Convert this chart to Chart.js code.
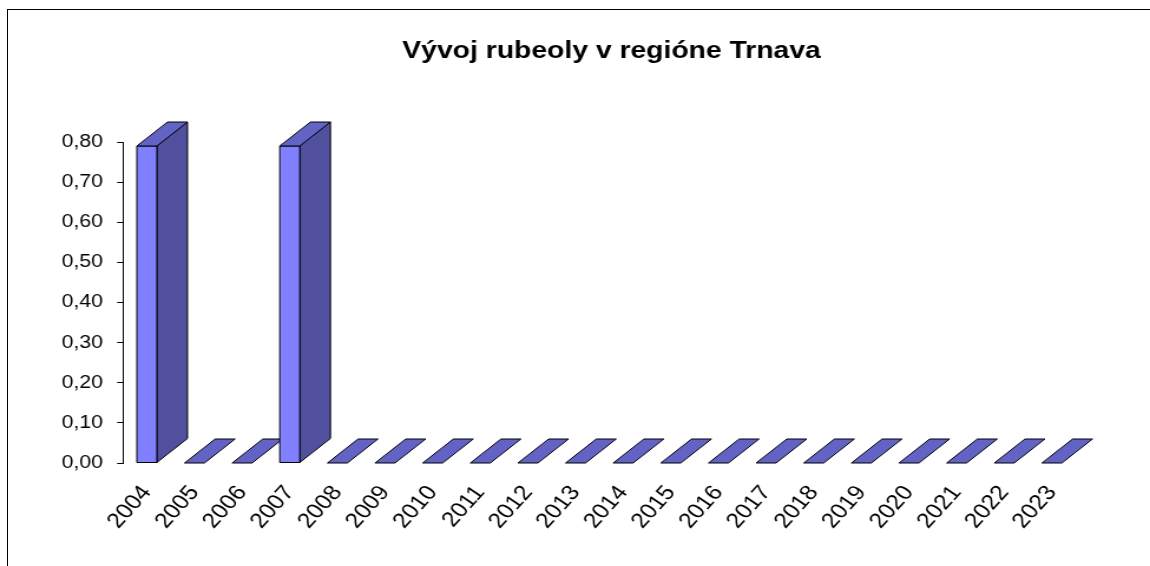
<!DOCTYPE html>
<html>
<head>
<meta charset="utf-8">
<title>Vývoj rubeoly v regióne Trnava</title>
<script src="https://cdn.jsdelivr.net/npm/chart.js@4"></script>
<style>
  html, body { margin: 0; padding: 0; background: #fff; overflow: hidden; }
  body { width: 1150px; height: 566px; position: relative; }
  #frame {
    position: absolute; left: 7px; top: 9px; width: 1200px; height: 600px;
    border-top: 1px solid #000; border-left: 1px solid #000;
  }
  /* the source picture is stretched sideways, so the canvas is too */
  #wrap {
    position: absolute; left: 0; top: 0; width: 975px; height: 566px;
    transform: scaleX(1.1795); transform-origin: 0 0;
  }
</style>
</head>
<body>
<div id="frame"></div>
<div id="wrap"><canvas id="chart" width="975" height="566"></canvas></div>
<script>
  const TITLE = 'Vývoj rubeoly v regióne Trnava';
  const years = ['2004', '2005', '2006', '2007', '2008', '2009', '2010', '2011', '2012', '2013',
    '2014', '2015', '2016', '2017', '2018', '2019', '2020', '2021', '2022', '2023'];
  const values = [0.79, 0, 0, 0.79, 0, 0, 0, 0, 0, 0, 0, 0, 0, 0, 0, 0, 0, 0, 0, 0];
  const yMin = 0;
  const yMax = 0.8;
  const yStep = 0.1;

  const FONT = "'Liberation Sans', Arial, sans-serif";
  const FRONT = '#8080FF';
  const SIDE = '#50509F';
  const TOP = '#6363C6';
  const DEPTH_X = 26;
  const DEPTH_Y = 24;

  // title sits off-centre in the source (centred on plot + depth), so draw it here
  const titleText = {
    id: 'titleText',
    afterDraw(chart) {
      const ctx = chart.ctx;
      ctx.save();
      ctx.font = `bold 24px ${FONT}`;
      ctx.fillStyle = '#000';
      ctx.textAlign = 'center';
      ctx.textBaseline = 'alphabetic';
      ctx.fillText(TITLE, 518.5, 58);
      ctx.restore();
    }
  };

  // draws each bar as a box, using the positions the bar elements got from the scales
  const bars3d = {
    id: 'bars3d',
    afterDatasetsDraw(chart) {
      const ctx = chart.ctx;
      const meta = chart.getDatasetMeta(0);
      ctx.save();
      ctx.lineWidth = 1;
      ctx.strokeStyle = '#000';
      ctx.lineJoin = 'round';
      meta.data.forEach(bar => {
        const { x, y, base, width } = bar.getProps(['x', 'y', 'base', 'width'], true);
        const l = x - width / 2;
        const r = x + width / 2;

        if (base - y > 0.5) {
          // side
          ctx.beginPath();
          ctx.moveTo(r, y);
          ctx.lineTo(r + DEPTH_X, y - DEPTH_Y);
          ctx.lineTo(r + DEPTH_X, base - DEPTH_Y);
          ctx.lineTo(r, base);
          ctx.closePath();
          ctx.fillStyle = SIDE;
          ctx.fill();
          ctx.stroke();
          // front
          ctx.beginPath();
          ctx.rect(l, y, width, base - y);
          ctx.fillStyle = FRONT;
          ctx.fill();
          ctx.stroke();
        }
        // top
        ctx.beginPath();
        ctx.moveTo(l, y);
        ctx.lineTo(l + DEPTH_X, y - DEPTH_Y);
        ctx.lineTo(r + DEPTH_X, y - DEPTH_Y);
        ctx.lineTo(r, y);
        ctx.closePath();
        ctx.fillStyle = TOP;
        ctx.fill();
        ctx.stroke();
      });
      ctx.restore();
    }
  };

  new Chart(document.getElementById('chart'), {
    type: 'bar',
    data: {
      labels: years,
      datasets: [{
        label: 'rubeola',
        data: values,
        backgroundColor: 'rgba(0,0,0,0)',
        borderWidth: 0,
        categoryPercentage: 1,
        barPercentage: 0.42,
      }],
    },
    plugins: [bars3d, titleText],
    options: {
      responsive: false,
      animation: false,
      layout: { padding: { left: 0, right: 63, top: 142, bottom: 0 } },
      plugins: {
        legend: { display: false },
        tooltip: { enabled: false },
        title: { display: false },
      },
      scales: {
        x: {
          grid: { display: false },
          border: { display: false },
          ticks: {
            color: '#000',
            font: { family: FONT, size: 21 },
            autoSkip: false,
            minRotation: 52,
            maxRotation: 52,
            padding: 10,
          },
          afterFit(scale) { scale.height = 103; },
        },
        y: {
          min: yMin,
          max: yMax,
          grid: { drawOnChartArea: false, drawTicks: true, tickLength: 5, color: '#000' },
          border: { display: true, color: '#000', width: 1 },
          ticks: {
            stepSize: yStep,
            color: '#000',
            font: { family: FONT, size: 18 },
            padding: 12,
            callback: v => Number(v).toFixed(2).replace('.', ','),
          },
          afterFit(scale) { scale.width = 104.3; },
        },
      },
    },
  });
</script>
</body>
</html>
